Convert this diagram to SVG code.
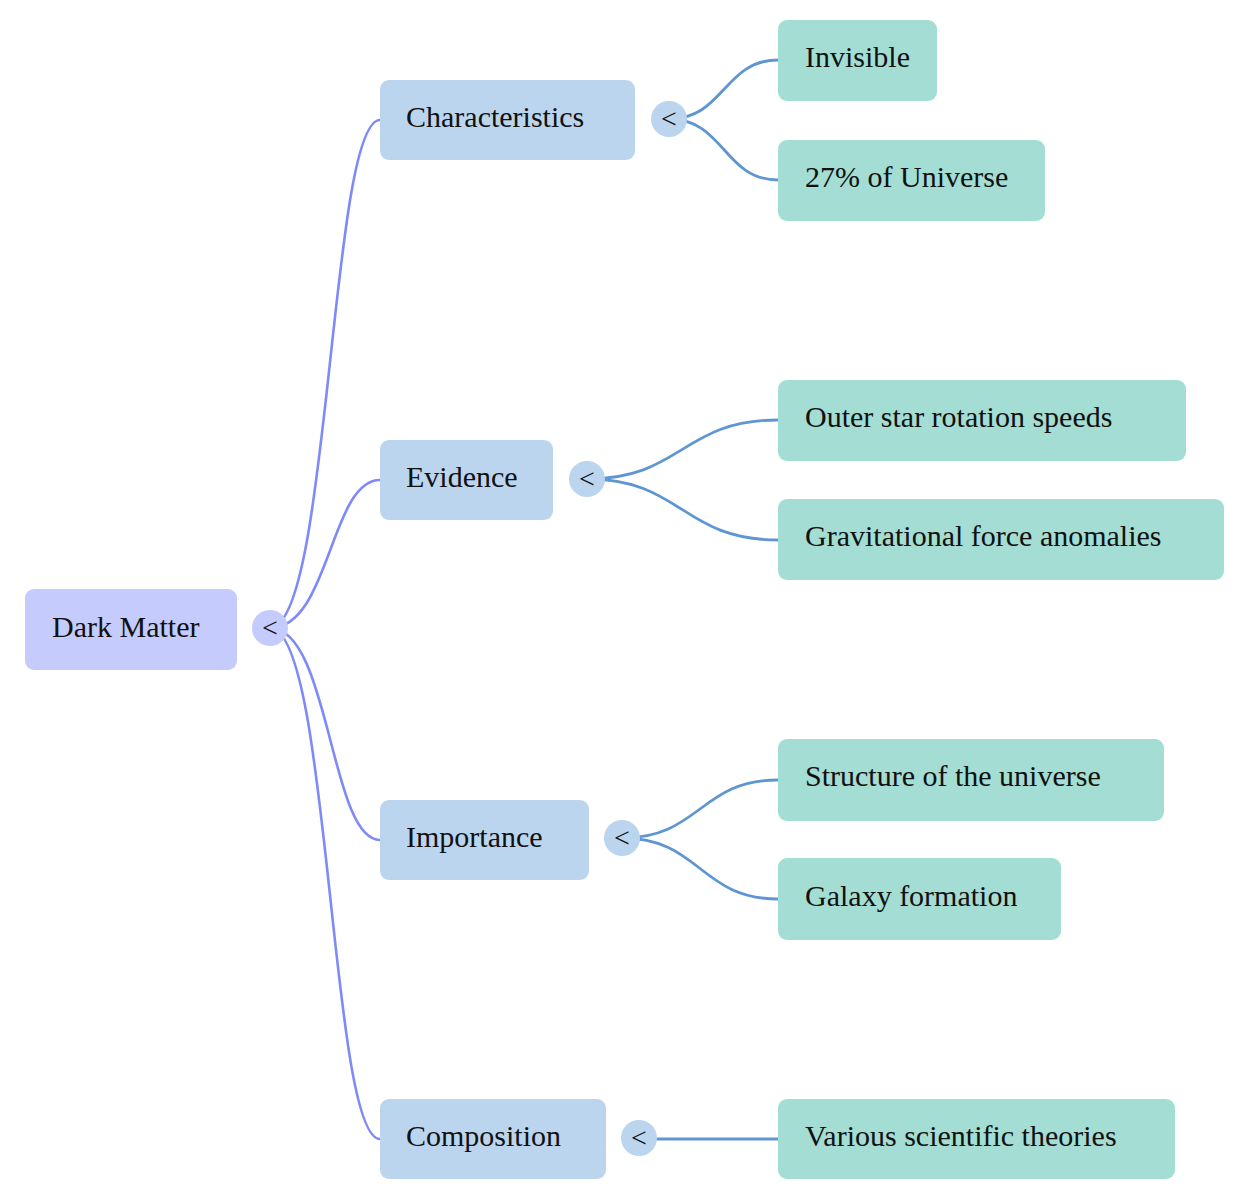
<svg xmlns="http://www.w3.org/2000/svg" width="1248" height="1200" viewBox="0 0 1248 1200">
<style>
text{font-family:'Liberation Serif',serif;font-size:30px;fill:#111}
.root rect{fill:#c5cbfc}
.l1 rect{fill:#bcd5ef}
.l2 rect{fill:#a3ddd3}
.c0{fill:#c5cbfc}
.c1{fill:#bcd5ef}
.e0{fill:none;stroke:#7f8af9;stroke-width:2.6}
.e1{fill:none;stroke:#5f96d2;stroke-width:2.8}
.tg{text-anchor:middle;font-size:28px}
</style>
<rect width="1248" height="1200" fill="#fff"/>
<g id="connectors">
<path class="e0" d="M270,628 C330,628 330,120 380,120"/>
<path class="e0" d="M270,628 C330,628 330,480 380,480"/>
<path class="e0" d="M270,628 C330,628 330,840 380,840"/>
<path class="e0" d="M270,628 C330,628 330,1139 380,1139"/>
<path class="e1" d="M669,119 C724,119 724,60 778,60"/>
<path class="e1" d="M669,119 C724,119 724,180 778,180"/>
<path class="e1" d="M587,479 C682,479 682,420 778,420"/>
<path class="e1" d="M587,479 C682,479 682,540 778,540"/>
<path class="e1" d="M622,838 C700,838 700,780 778,780"/>
<path class="e1" d="M622,838 C700,838 700,899 778,899"/>
<path class="e1" d="M639,1139 L778,1139"/>
</g>
<g id="n-root" class="root"><rect x="25" y="589" width="212" height="81" rx="9"/><text x="52" y="637">Dark Matter</text><circle class="c0" cx="270" cy="628" r="18"/><text class="tg" x="270" y="637">&lt;</text></g>
<g id="n-characteristics" class="l1"><rect x="380" y="80" width="255" height="80" rx="9"/><text x="406" y="127">Characteristics</text><circle class="c1" cx="669" cy="119" r="18"/><text class="tg" x="669" y="128">&lt;</text></g>
<g id="n-evidence" class="l1"><rect x="380" y="440" width="173" height="80" rx="9"/><text x="406" y="487">Evidence</text><circle class="c1" cx="587" cy="479" r="18"/><text class="tg" x="587" y="488">&lt;</text></g>
<g id="n-importance" class="l1"><rect x="380" y="800" width="209" height="80" rx="9"/><text x="406" y="847">Importance</text><circle class="c1" cx="622" cy="838" r="18"/><text class="tg" x="622" y="847">&lt;</text></g>
<g id="n-composition" class="l1"><rect x="380" y="1099" width="226" height="80" rx="9"/><text x="406" y="1146">Composition</text><circle class="c1" cx="639" cy="1138" r="18"/><text class="tg" x="639" y="1147">&lt;</text></g>
<g id="n-invisible" class="l2"><rect x="778" y="20" width="159" height="81" rx="9"/><text x="805" y="67">Invisible</text></g>
<g id="n-27pct" class="l2"><rect x="778" y="140" width="267" height="81" rx="9"/><text x="805" y="187">27% of Universe</text></g>
<g id="n-outer" class="l2"><rect x="778" y="380" width="408" height="81" rx="9"/><text x="805" y="427">Outer star rotation speeds</text></g>
<g id="n-grav" class="l2"><rect x="778" y="499" width="446" height="81" rx="9"/><text x="805" y="546">Gravitational force anomalies</text></g>
<g id="n-structure" class="l2"><rect x="778" y="739" width="386" height="82" rx="9"/><text x="805" y="786">Structure of the universe</text></g>
<g id="n-galaxy" class="l2"><rect x="778" y="858" width="283" height="82" rx="9"/><text x="805" y="906">Galaxy formation</text></g>
<g id="n-various" class="l2"><rect x="778" y="1099" width="397" height="80" rx="9"/><text x="805" y="1146">Various scientific theories</text></g>
</svg>
